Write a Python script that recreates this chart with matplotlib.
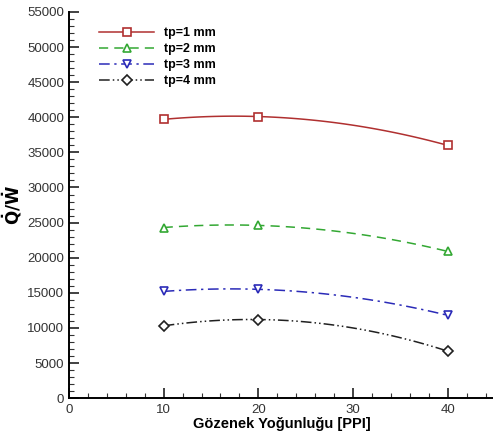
import numpy as np
import matplotlib
matplotlib.use("Agg")
import matplotlib.pyplot as plt
from matplotlib.ticker import MultipleLocator

plt.rcParams['font.family'] = ['Liberation Sans', 'DejaVu Sans']

# data
ppi = [10, 20, 40]
tp1 = [39700, 40100, 36000]
tp2 = [24300, 24600, 20900]
tp3 = [15200, 15500, 11800]
tp4 = [10300, 11200, 6700]
labels = ['tp=1 mm', 'tp=2 mm', 'tp=3 mm', 'tp=4 mm']

series = [tp1, tp2, tp3, tp4]
colors = ['#B03030', '#33A833', '#2B2BB8', '#202020']
styles = ['-', (0, (6, 4)), (0, (7, 3, 1.5, 3)), (0, (7, 2, 1, 2, 1, 2))]
markers = ['s', '^', 'v', 'D']
msizes = [5.5, 6, 6, 5]

fig = plt.figure(figsize=(4.93, 4.40), dpi=100)
ax = fig.add_axes([0.14, 0.095, 0.864, 0.878])

xs = np.linspace(ppi[0], ppi[-1], 100)
for y, c, ls, m, ms, lab in zip(series, colors, styles, markers, msizes, labels):
    # smooth curve through the points, like the original spline
    coef = np.polyfit(ppi, y, 2)
    ax.plot(xs, np.polyval(coef, xs), color=c, ls=ls, lw=1.1)
    ax.plot(ppi, y, ls='none', marker=m, ms=ms, mfc='white', mec=c, mew=1.2)
    # legend proxy
    ax.plot([], [], color=c, ls=ls, lw=1.1, marker=m, ms=ms, mfc='white',
            mec=c, mew=1.2, label=lab)

ax.set_xlim(0, 45)
ax.set_ylim(0, 55000)
ax.xaxis.set_major_locator(MultipleLocator(10))
ax.xaxis.set_minor_locator(MultipleLocator(2))
ax.yaxis.set_major_locator(MultipleLocator(5000))
ax.yaxis.set_minor_locator(MultipleLocator(1000))
ax.tick_params(which='major', direction='in', length=7, width=1.3, labelsize=9.5, colors='#333333')
ax.tick_params(which='minor', direction='in', length=3.5, width=0.8, colors='#333333')
ax.tick_params(axis='x', pad=4)

for s in ['top', 'right']:
    ax.spines[s].set_visible(False)
for s in ['left', 'bottom']:
    ax.spines[s].set_linewidth(1.4)

ax.set_xlabel('Gözenek Yoğunluğu [PPI]', fontsize=10.5, fontweight='bold', labelpad=1)
ax.set_ylabel(r'$\mathbf{\dot{Q}/\dot{W}}$', fontsize=12, labelpad=2)

ax.legend(loc='upper left', bbox_to_anchor=(0.045, 0.99), frameon=False,
          prop={'weight': 'bold', 'size': 9}, handlelength=4.4,
          labelspacing=0.32, handletextpad=0.8)

fig.savefig('out.png', dpi=100)
